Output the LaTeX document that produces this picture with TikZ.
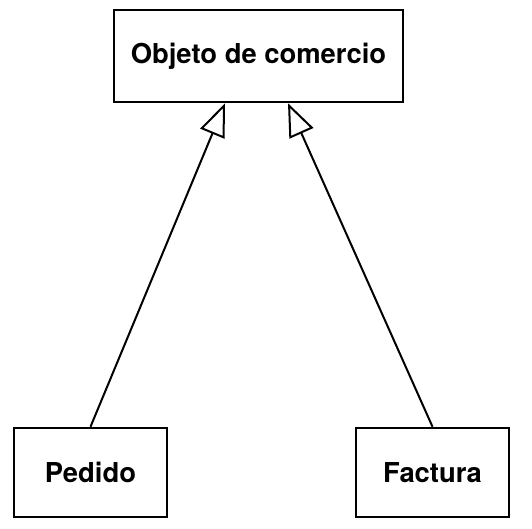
\documentclass[tikz,border=0pt]{standalone}
\usepackage{fontspec}
\setmainfont{TeX Gyre Heros}
\usetikzlibrary{arrows.meta}

\begin{document}
\begin{tikzpicture}[x=1pt,y=1pt,
  clase/.style={draw,line width=2.5pt,inner sep=0pt,font=\fontsize{27.4}{32}\selectfont\bfseries},
  hereda/.style={line width=2pt,-{Triangle[open,length=33pt,width=26pt,line width=2pt]}}]
  \useasboundingbox (0,0) rectangle (532,528);
  \node[clase,minimum width=289pt,minimum height=92pt] (objeto) at (258.5,472) {Objeto de comercio};
  \node[clase,minimum width=153pt,minimum height=89pt] (pedido) at (90.5,55.5) {Pedido};
  \node[clase,minimum width=153pt,minimum height=89pt] (factura) at (432.5,55.5) {Factura};
  \draw[hereda] (pedido.north) -- ([xshift=-33.5pt]objeto.south);
  \draw[hereda] (factura.north) -- ([xshift=29.5pt]objeto.south);
\end{tikzpicture}
\end{document}
